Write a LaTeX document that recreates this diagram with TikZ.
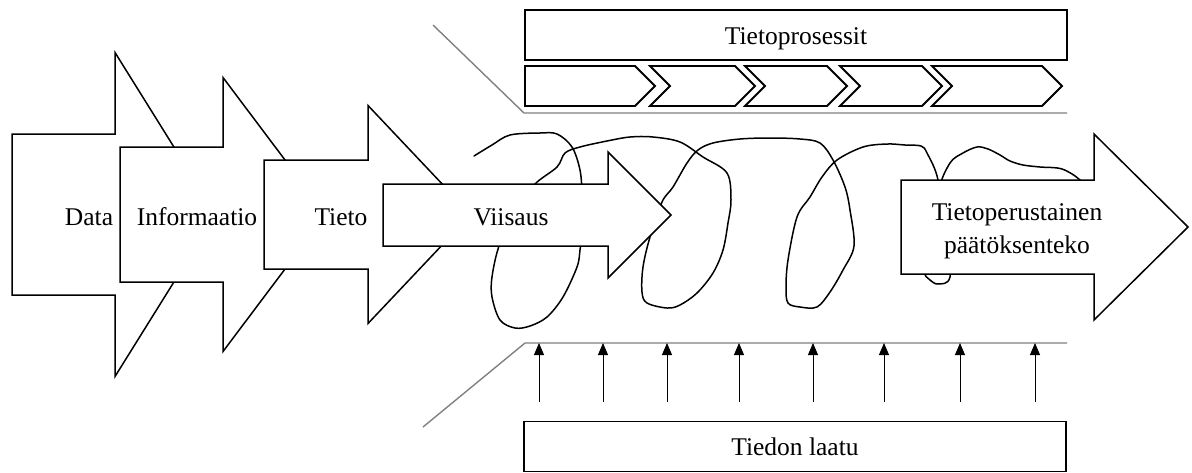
\documentclass[tikz,border=0pt]{standalone}
\usepackage{fontspec}
\setmainfont{Liberation Serif}
\usetikzlibrary{arrows.meta}
\definecolor{guide}{RGB}{128,128,128}

% block arrow: left x, shaft end x, tip x, centre y, half body height, half head height
\newcommand{\blockarrow}[6]{%
  \draw[arrowshape] (#1,#4-#5) -- (#2,#4-#5) -- (#2,#4-#6) -- (#3,#4)
    -- (#2,#4+#6) -- (#2,#4+#5) -- (#1,#4+#5) -- cycle;}
% process chevron: left x, right x (before the point)
\newcommand{\chevron}[2]{%
  \draw[stepshape] (#1,66) -- (#2,66) -- (#2+20,86) -- (#2,106) -- (#1,106) -- (#1+20,86) -- cycle;}

\tikzset{
  arrowshape/.style={draw=black, fill=white, line width=1.5pt, line join=miter},
  stepshape/.style={draw=black, fill=white, line width=1.8pt, line join=miter},
  framebox/.style={draw=black, line width=1.8pt, inner sep=0pt},
  lbl/.style={font=\fontsize{25.5}{33}\selectfont, inner sep=0pt, text=black},
  guideline/.style={draw=guide, line width=1.4pt},
  spiral/.style={draw=black, line width=1.5pt, line join=round, line cap=round},
  qarrow/.style={draw=black, line width=0.9pt, -{Triangle[width=10pt,length=12pt]}},
}

\begin{document}
\begin{tikzpicture}[x=1pt, y=-1pt]
\useasboundingbox (0,0) rectangle (1192,472);

% guide lines framing the process band
\draw[guideline] (433,25) -- (524,113) -- (1067,113);
\draw[guideline] (423,427) -- (525,343) -- (1067,343);

% knowledge hierarchy arrows
\blockarrow{12}{115}{216}{214.5}{80.5}{162}
\node[lbl, anchor=base] (data) at (89,225) {Data};
\blockarrow{120}{223}{326}{214.5}{67.5}{137}
\node[lbl, anchor=base] (info) at (197,225) {Informaatio};
\blockarrow{264}{368}{471}{214.5}{54.5}{109}
\node[lbl, anchor=base] (tieto) at (341,225) {Tieto};

% spiral of the knowledge cycle
\draw[spiral] plot[smooth, tension=0.55] coordinates {
  (474,156) (492,145) (510,135) (540,133) (557,134) (572,147) (580,170) (582,195)
  (582,230) (580,250) (577,267) (563,297) (547,317) (530,326) (515,328) (500,320)
  (492,297) (492,277) (499,246) (515,210) (535,184) (557,167) (565,153) (580,147)
  (607,141) (630,137) (653,137) (680,142) (703,157) (727,173) (731,200) (728,223)
  (723,250) (713,273) (697,293) (680,305) (667,308) (647,303) (642,292) (643,267)
  (650,237) (662,202) (673,187) (687,163) (698,150) (713,143) (740,139) (770,138)
  (800,139) (820,143) (833,160) (845,187) (850,210) (854,246) (843,270) (830,292)
  (817,307) (800,307) (788,303) (786,287) (788,260) (797,217) (810,197) (822,177)
  (837,160) (863,147) (887,144) (905,145) (921,146) (927,153) (938,180) (942,230)
  (932,268) (925,274) (930,280) (938,284) (950,277) (950,230) (940,190) (950,163)
  (963,153) (977,147) (988,149) (1000,155) (1010,161) (1023,165) (1040,167)
  (1062,169) (1080,180) (1090,195)};

\blockarrow{383}{608}{671}{215}{31}{63}
\node[lbl, anchor=base] (viisaus) at (511,225) {Viisaus};
\blockarrow{901}{1094}{1188}{227}{47}{93}
\node[lbl, align=center] (paatos) at (1017,231) {Tietoperustainen\\päätöksenteko};

% knowledge processes
\node[framebox, minimum width=542pt, minimum height=50pt] (proc) at (796,35) {};
\node[lbl, anchor=base] (proclbl) at (proc.center |- 0,44) {Tietoprosessit};
\draw[stepshape] (525,66) -- (635,66) -- (655,86) -- (635,106) -- (525,106) -- cycle;
\chevron{650}{735}
\chevron{745}{827}
\chevron{840}{922}
\chevron{932}{1042}

% knowledge quality
\node[framebox, minimum width=542pt, minimum height=50pt] (laatu) at (795,446.5) {};
\node[lbl, anchor=base] (laatulbl) at (laatu.center |- 0,455) {Tiedon laatu};
\foreach \x [count=\i] in {539,603,667,739,813,884,960,1035} {
  \coordinate (q\i) at (\x,402);
  \coordinate (p\i) at (\x,343);
  \draw[qarrow] (q\i) -- (p\i);
}
\end{tikzpicture}
\end{document}
